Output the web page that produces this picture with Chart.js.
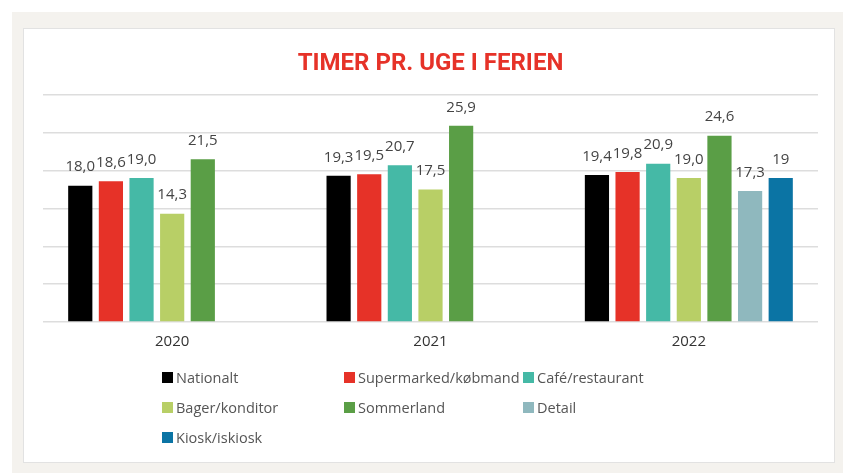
<!DOCTYPE html>
<html>
<head>
<meta charset="utf-8">
<script src="https://cdn.jsdelivr.net/npm/chart.js@4"></script>
<style>
  body { margin: 0; width: 843px; height: 473px; background: #fff; position: relative; overflow: hidden; font-family: "Open Sans", sans-serif; }
  #outer { position: absolute; left: 12px; top: 12px; width: 831px; height: 461px; background: #f4f2ee; }
  #inner { position: absolute; left: 23px; top: 28px; width: 810px; height: 433px; background: #fff; border: 1px solid #e2e2e2; }
  #graf { position: absolute; left: 0; top: 0; }
  #legende { position: absolute; left: 162px; top: 362px; display: grid; grid-template-columns: 182px 179px auto; grid-auto-rows: 30px; }
  .item { display: flex; align-items: center; font-size: 14.5px; color: #555; white-space: nowrap; }
  .item span.boks { width: 11px; height: 11px; margin-right: 3px; display: inline-block; }
</style>
</head>
<body>
<div id="outer"></div>
<div id="inner"></div>
<canvas id="graf" width="843" height="473"></canvas>
<div id="legende"></div>
<script>
const aar = ['2020', '2021', '2022'];

const serier = ['Nationalt', 'Supermarked/købmand', 'Café/restaurant', 'Bager/konditor', 'Sommerland', 'Detail', 'Kiosk/iskiosk'];
const farver = ['#000000', '#e63228', '#45b9a6', '#b8cf66', '#5a9e46', '#8fb8be', '#0b74a4'];

const nationalt = [18.0, 19.3, 19.4];
const supermarked = [18.6, 19.5, 19.8];
const cafe = [19.0, 20.7, 20.9];
const bager = [14.3, 17.5, 19.0];
const sommerland = [21.5, 25.9, 24.6];
const detail = [null, null, 17.3];
const kiosk = [null, null, 19];

const decimaler = [1, 1, 1, 1, 1, 1, 0];

const vaerdier = [nationalt, supermarked, cafe, bager, sommerland, detail, kiosk];

const etiketter = {
  id: 'etiketter',
  afterDatasetsDraw(chart) {
    const ctx = chart.ctx;
    ctx.save();
    ctx.font = '15px "Open Sans", sans-serif';
    ctx.fillStyle = '#444';
    ctx.textAlign = 'center';
    ctx.textBaseline = 'bottom';
    chart.data.datasets.forEach((ds, i) => {
      const meta = chart.getDatasetMeta(i);
      meta.data.forEach((bar, j) => {
        const v = ds.data[j];
        if (v === null || v === undefined) return;
        const tekst = v.toFixed(decimaler[i]).replace('.', ',');
        ctx.fillText(tekst, bar.x, bar.y - 11);
      });
    });
    ctx.restore();
  }
};

const graf = new Chart(document.getElementById('graf'), {
  type: 'bar',
  data: {
    labels: aar,
    datasets: serier.map((navn, i) => ({
      label: navn,
      data: vaerdier[i],
      backgroundColor: farver[i],
      categoryPercentage: 0.83,
      barPercentage: 0.79
    }))
  },
  options: {
    responsive: false,
    animation: false,
    layout: { padding: { left: 43, right: 25, top: 0, bottom: 119 } },
    plugins: {
      legend: { display: false },
      tooltip: { enabled: false },
      title: {
        display: true,
        text: 'TIMER PR. UGE I FERIEN',
        color: '#e63228',
        font: { family: '"Liberation Sans Narrow", "Roboto", sans-serif', size: 24, weight: 'bold' },
        padding: { top: 50, bottom: 16 }
      }
    },
    scales: {
      x: {
        grid: { display: false },
        border: { display: false },
        ticks: { color: '#333', font: { family: '"Open Sans", sans-serif', size: 15 }, padding: 3 }
      },
      y: {
        min: 0,
        max: 30,
        ticks: { display: false, stepSize: 5 },
        grid: { color: '#dddddd', lineWidth: 1.5, drawTicks: false },
        border: { display: false }
      }
    }
  },
  plugins: [etiketter]
});

const legende = document.getElementById('legende');
serier.forEach((navn, i) => {
  const el = document.createElement('div');
  el.className = 'item';
  el.innerHTML = '<span class="boks" style="background:' + farver[i] + '"></span>' + navn;
  legende.appendChild(el);
});
</script>
</body>
</html>
